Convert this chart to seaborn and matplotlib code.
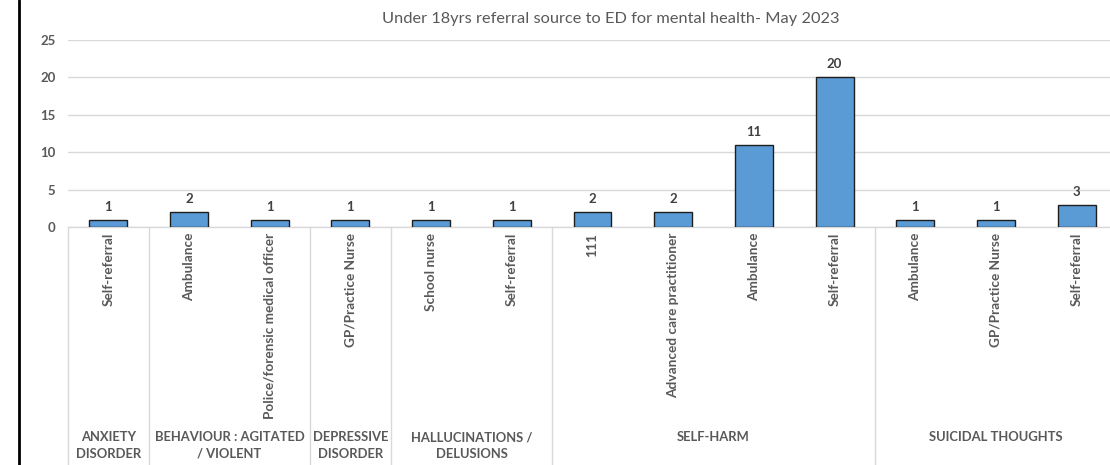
import matplotlib
matplotlib.use("Agg")
import matplotlib.pyplot as plt
import matplotlib.transforms as mtransforms
from matplotlib.lines import Line2D
import seaborn as sns
import pandas as pd

# Referral counts by presenting reason and referral source
groups = [
    "ANXIETY\nDISORDER",
    "BEHAVIOUR : AGITATED\n/ VIOLENT",
    "BEHAVIOUR : AGITATED\n/ VIOLENT",
    "DEPRESSIVE\nDISORDER",
    "HALLUCINATIONS /\nDELUSIONS",
    "HALLUCINATIONS /\nDELUSIONS",
    "SELF-HARM",
    "SELF-HARM",
    "SELF-HARM",
    "SELF-HARM",
    "SUICIDAL THOUGHTS",
    "SUICIDAL THOUGHTS",
    "SUICIDAL THOUGHTS",
]
sources = [
    "Self-referral",
    "Ambulance",
    "Police/forensic medical officer",
    "GP/Practice Nurse",
    "School nurse",
    "Self-referral",
    "111",
    "Advanced care practitioner",
    "Ambulance",
    "Self-referral",
    "Ambulance",
    "GP/Practice Nurse",
    "Self-referral",
]
counts = [1, 2, 1, 1, 1, 1, 2, 2, 11, 20, 1, 1, 3]
y_ticks = [0, 5, 10, 15, 20, 25]
title = "Under 18yrs referral source to ED for mental health- May 2023"

df = pd.DataFrame({"group": groups, "source": sources, "count": counts})
df["key"] = [f"{i}:{s}" for i, s in enumerate(sources)]

sns.set_theme(style="white")
plt.rcParams["font.family"] = ["Lato", "DejaVu Sans"]

W, H = 1110, 465
fig = plt.figure(figsize=(W / 100, H / 100), dpi=100)
ax_left, ax_right, ax_bottom, ax_top = 68, 1117, 227, 40
ax = fig.add_axes([ax_left / W, 1 - ax_bottom / H,
                   (ax_right - ax_left) / W, (ax_bottom - ax_top) / H])

sns.barplot(data=df, x="key", y="count", order=list(df["key"]),
            color="#5B9BD5", edgecolor="#1e1e1e", linewidth=1.0,
            width=0.47, saturation=1, ax=ax, zorder=3)

ax.set_xlim(-0.5, len(df) - 0.5)
ax.set_ylim(0, 25)
ax.set_yticks(y_ticks)
ax.set_yticklabels([str(v) for v in y_ticks], fontsize=9.5, fontweight="bold",
                   color="#595959")
ax.grid(axis="y", color="#d9d9d9", linewidth=1.0, zorder=0)
ax.grid(axis="x", visible=False)
for side in ["left", "right", "top"]:
    ax.spines[side].set_visible(False)
ax.spines["bottom"].set_color("#d9d9d9")
ax.spines["bottom"].set_linewidth(1.0)
ax.tick_params(axis="y", length=0, pad=9)
ax.tick_params(axis="x", length=0, pad=4)

ax.set_xticks(range(len(df)))
ax.set_xticklabels(df["source"], rotation=90, fontsize=9.8, fontweight="bold",
                   color="#595959", va="top", ha="center")
ax.set_xlabel("")
ax.set_ylabel("")

ax.bar_label(ax.containers[0], labels=[str(c) for c in counts], padding=5,
             fontsize=9.5, fontweight="bold", color="#404040")

# Group boundaries and group captions below the source labels
trans = mtransforms.blended_transform_factory(ax.transData, fig.transFigure)
bounds = [-0.5]
for i in range(1, len(groups)):
    if groups[i] != groups[i - 1]:
        bounds.append(i - 0.5)
bounds.append(len(groups) - 0.5)
for b in bounds:
    fig.add_artist(Line2D([b, b], [1 - ax_bottom / H, 0], transform=trans,
                          color="#d9d9d9", linewidth=1.0, clip_on=False))

start = 0
for i in range(1, len(groups) + 1):
    if i == len(groups) or groups[i] != groups[start]:
        center = (start + i - 1) / 2
        fig.text(center, 1 - 431 / H, groups[start], transform=trans,
                 ha="center", va="top", fontsize=9.4, fontweight="bold",
                 color="#595959", linespacing=1.45)
        start = i

fig.text(611 / W, 1 - 19 / H, title, ha="center", va="center",
         fontsize=11.8, color="#595959")

# Left frame border
fig.add_artist(Line2D([19 / W, 19 / W], [0, 1], transform=fig.transFigure,
                      color="black", linewidth=2.0))

fig.savefig("out.png", dpi=100)
